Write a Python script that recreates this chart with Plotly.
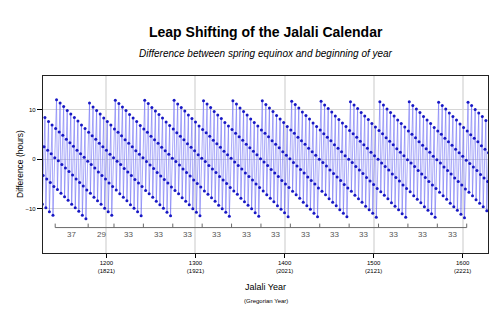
import plotly.graph_objects as go

# ---- data (hours: spring equinox minus start of Jalali year) ----
first_year = 1128

diff_1128_1176 = [-9.1, -3.3, 2.5, 8.4, -9.8, -4.0, 1.8, 7.6, -10.6, -4.7, 1.1, 6.9,
                  -11.3, -5.5, 0.3, 6.2, 12.0, -6.1, -0.3, 5.5, 11.3, -6.9, -1.1, 4.8,
                  10.6, -7.6, -1.8, 4.0, 9.8, -8.3, -2.5, 3.3, 9.1, -9.1, -3.2, 2.6,
                  8.4, -9.8, -4.0, 1.8, 7.7, -10.5, -4.7, 1.1, 6.9, -11.3, -5.4, 0.4, 6.2]
diff_1177_1209 = [-12.0, -6.2, -0.4, 5.4, 11.3, -6.9, -1.1, 4.7, 10.5, -7.7, -1.8, 4.0,
                  9.8, -8.4, -2.6, 3.2, 9.1, -9.1, -3.3, 2.5, 8.3, -9.9, -4.0, 1.8,
                  7.6, -10.6, -4.8, 1.0, 6.9, -11.3, -5.5, 0.3, 6.1]
diff_1210_1242 = [11.9, -6.2, -0.4, 5.4, 11.2, -7.0, -1.1, 4.7, 10.5, -7.7, -1.9, 3.9, 9.8,
                  -8.4, -2.6, 3.2, 9.0, -9.2, -3.3, 2.5, 8.3, -9.9, -4.1, 1.7, 7.6, -10.6,
                  -4.8, 1.0, 6.8, -11.4, -5.5, 0.3, 6.1]
diff_1243_1275 = [11.9, -6.3, -0.5, 5.4, 11.2, -7.0, -1.2, 4.6, 10.4, -7.7, -1.9, 3.9, 9.7,
                  -8.5, -2.7, 3.2, 9.0, -9.2, -3.4, 2.4, 8.3, -9.9, -4.1, 1.7, 7.5, -10.7,
                  -4.8, 1.0, 6.8, -11.4, -5.6, 0.2, 6.1]
diff_1276_1308 = [11.9, -6.3, -0.5, 5.3, 11.1, -7.0, -1.2, 4.6, 10.4, -7.8, -2.0, 3.9, 9.7,
                  -8.5, -2.7, 3.1, 8.9, -9.2, -3.4, 2.4, 8.2, -10.0, -4.2, 1.7, 7.5, -10.7,
                  -4.9, 0.9, 6.7, -11.4, -5.6, 0.2, 6.0]
diff_1309_1341 = [11.8, -6.4, -0.5, 5.3, 11.1, -7.1, -1.3, 4.6, 10.4, -7.8, -2.0, 3.8, 9.6,
                  -8.5, -2.7, 3.1, 8.9, -9.3, -3.5, 2.4, 8.2, -10.0, -4.2, 1.6, 7.4, -10.7,
                  -4.9, 0.9, 6.7, -11.5, -5.7, 0.2, 6.0]
diff_1342_1374 = [11.8, -6.4, -0.6, 5.2, 11.1, -7.1, -1.3, 4.5, 10.3, -7.9, -2.0, 3.8, 9.6,
                  -8.6, -2.8, 3.0, 8.9, -9.3, -3.5, 2.3, 8.1, -10.0, -4.2, 1.6, 7.4, -10.8,
                  -5.0, 0.9, 6.7, -11.5, -5.7, 0.1, 5.9]
diff_1375_1407 = [11.8, -6.4, -0.6, 5.2, 11.0, -7.2, -1.3, 4.5, 10.3, -7.9, -2.1, 3.7, 9.6,
                  -8.6, -2.8, 3.0, 8.8, -9.4, -3.5, 2.3, 8.1, -10.1, -4.3, 1.5, 7.4, -10.8,
                  -5.0, 0.8, 6.6, -11.6, -5.7, 0.1, 5.9]
diff_1408_1440 = [11.7, -6.5, -0.7, 5.2, 11.0, -7.2, -1.4, 4.4, 10.3, -7.9, -2.1, 3.7, 9.5,
                  -8.7, -2.8, 3.0, 8.8, -9.4, -3.6, 2.2, 8.1, -10.1, -4.3, 1.5, 7.3, -10.9,
                  -5.0, 0.8, 6.6, -11.6, -5.8, 0.0, 5.9]
diff_1441_1473 = [11.7, -6.5, -0.7, 5.1, 10.9, -7.2, -1.4, 4.4, 10.2, -8.0, -2.2, 3.7, 9.5,
                  -8.7, -2.9, 2.9, 8.7, -9.4, -3.6, 2.2, 8.0, -10.2, -4.3, 1.5, 7.3, -10.9,
                  -5.1, 0.7, 6.6, -11.6, -5.8, 0.0, 5.8]
diff_1474_1506 = [11.6, -6.5, -0.7, 5.1, 10.9, -7.3, -1.5, 4.4, 10.2, -8.0, -2.2, 3.6, 9.4,
                  -8.7, -2.9, 2.9, 8.7, -9.5, -3.7, 2.2, 8.0, -10.2, -4.4, 1.4, 7.2, -10.9,
                  -5.1, 0.7, 6.5, -11.7, -5.9, 0.0, 5.8]
diff_1507_1539 = [11.6, -6.6, -0.8, 5.1, 10.9, -7.3, -1.5, 4.3, 10.1, -8.0, -2.2, 3.6, 9.4,
                  -8.8, -3.0, 2.9, 8.7, -9.5, -3.7, 2.1, 7.9, -10.2, -4.4, 1.4, 7.2, -11.0,
                  -5.2, 0.7, 6.5, -11.7, -5.9, -0.1, 5.7]
diff_1540_1572 = [11.6, -6.6, -0.8, 5.0, 10.8, -7.4, -1.5, 4.3, 10.1, -8.1, -2.3, 3.5, 9.4,
                  -8.8, -3.0, 2.8, 8.6, -9.6, -3.7, 2.1, 7.9, -10.3, -4.5, 1.4, 7.2, -11.0,
                  -5.2, 0.6, 6.4, -11.7, -5.9, -0.1, 5.7]
diff_1573_1605 = [11.5, -6.7, -0.8, 5.0, 10.8, -7.4, -1.6, 4.2, 10.1, -8.1, -2.3, 3.5, 9.3,
                  -8.9, -3.0, 2.8, 8.6, -9.6, -3.8, 2.0, 7.9, -10.3, -4.5, 1.3, 7.1, -11.1,
                  -5.2, 0.6, 6.4, -11.8, -6.0, -0.2, 5.7]
diff_1606_1629 = [11.5, -6.7, -0.9, 4.9, 10.8, -7.4, -1.6, 4.2, 10.0, -8.2, -2.3, 3.5, 9.3,
                  -8.9, -3.1, 2.7, 8.6, -9.6, -3.8, 2.0, 7.8, -10.4, -4.5, 1.3]

jalali_ticks = [1200, 1300, 1400, 1500, 1600]
gregorian_ticks = [1821, 1921, 2021, 2121, 2221]
y_ticks = [-10, 0, 10]

# leap-cycle lengths (years) shown along the bottom, starting at this boundary
cycle_first_boundary = 1142.5
cycle_lengths = [37, 29, 33, 33, 33, 33, 33, 33, 33, 33, 33, 33, 33, 33]

# ---- assemble ----
diff = (diff_1128_1176 + diff_1177_1209 + diff_1210_1242 + diff_1243_1275 + diff_1276_1308
        + diff_1309_1341 + diff_1342_1374 + diff_1375_1407 + diff_1408_1440 + diff_1441_1473
        + diff_1474_1506 + diff_1507_1539 + diff_1540_1572 + diff_1573_1605 + diff_1606_1629)
years = [first_year + i for i in range(len(diff))]

FONT = "Liberation Sans, Arial, Helvetica, sans-serif"
fig = go.Figure()
fig.add_trace(go.Scatter(
    x=years, y=diff, mode="lines+markers",
    line=dict(color="rgba(110,110,245,0.75)", width=0.8),
    marker=dict(color="#1818c4", size=3, line=dict(width=0)),
    hoverinfo="skip", showlegend=False,
))

# cycle bracket
boundaries = [cycle_first_boundary]
for n in cycle_lengths:
    boundaries.append(boundaries[-1] + n)
y_base, y_top, y_lab = -13.8, -13.0, -15.2
gray = "#6a6a6a"
fig.add_shape(type="line", xref="x", yref="y", x0=boundaries[0], x1=boundaries[-1],
              y0=y_base, y1=y_base, line=dict(color=gray, width=1))
for b in boundaries:
    fig.add_shape(type="line", xref="x", yref="y", x0=b, x1=b, y0=y_base, y1=y_top,
                  line=dict(color=gray, width=1))
for i, n in enumerate(cycle_lengths):
    fig.add_annotation(x=(boundaries[i] + boundaries[i + 1]) / 2, y=y_lab, xref="x", yref="y",
                       text=str(n), showarrow=False, font=dict(size=8, color="#555", family=FONT))

# titles
fig.add_annotation(xref="paper", yref="paper", x=0.5, y=1, yshift=44, yanchor="middle",
                   text="<b>Leap Shifting of the Jalali Calendar</b>", showarrow=False,
                   font=dict(size=14, color="#000", family=FONT))
fig.add_annotation(xref="paper", yref="paper", x=0.5, y=1, yshift=22.5, yanchor="middle",
                   text="<i>Difference between spring equinox and beginning of year</i>",
                   showarrow=False, font=dict(size=10, color="#000", family=FONT))
fig.add_annotation(xref="paper", yref="paper", x=0.5, y=0, yshift=-33.5, yanchor="middle",
                   text="Jalali Year", showarrow=False, font=dict(size=9, color="#000", family=FONT))
fig.add_annotation(xref="paper", yref="paper", x=0.5, y=0, yshift=-47.5, yanchor="middle",
                   text="(Gregorian Year)", showarrow=False, font=dict(size=6, color="#000", family=FONT))
fig.add_annotation(xref="paper", yref="paper", x=0, y=0.5, xshift=-23.5, xanchor="center",
                   yanchor="middle", textangle=-90, text="Difference (hours)", showarrow=False,
                   font=dict(size=8.5, color="#000", family=FONT))

fig.update_layout(
    width=500, height=330,
    margin=dict(l=43, r=12, t=76, b=77),
    paper_bgcolor="white", plot_bgcolor="white",
    font=dict(family=FONT, color="#000"),
    xaxis=dict(range=[1128.8, 1628.4], tickmode="array", tickvals=jalali_ticks,
               ticktext=[f"{j}<br>({g})" for j, g in zip(jalali_ticks, gregorian_ticks)],
               tickfont=dict(size=6), ticks="outside", ticklen=4, tickcolor="#000",
               showgrid=True, gridcolor="#e4e4e4", gridwidth=2, zeroline=False,
               showline=True, mirror=True, linecolor="#222", linewidth=1.3),
    yaxis=dict(range=[-18.93, 16.77], tickmode="array", tickvals=y_ticks,
               tickfont=dict(size=6), ticks="outside", ticklen=5, tickcolor="#000",
               showgrid=True, gridcolor="#d6d6d6", gridwidth=1, zeroline=False,
               showline=True, mirror=True, linecolor="#222", linewidth=1.3),
)

fig.write_html("out.html")
